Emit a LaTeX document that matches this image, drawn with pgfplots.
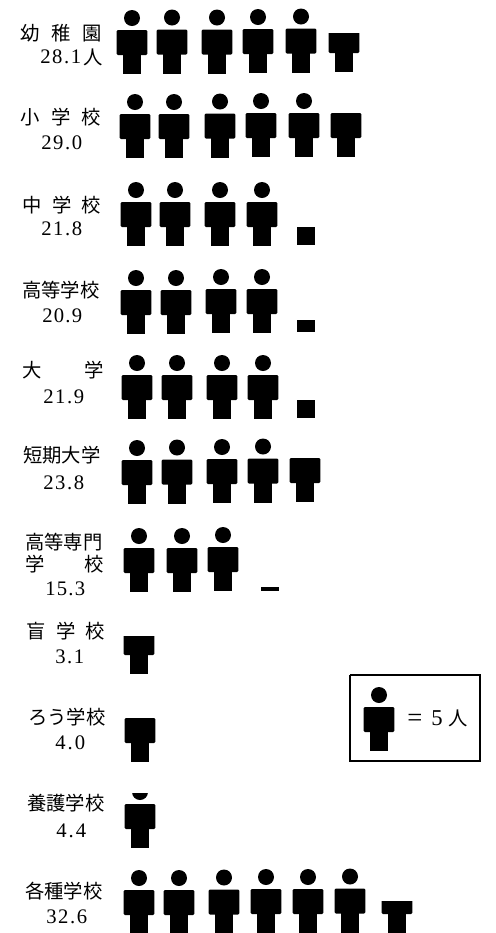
\documentclass[border=0pt]{standalone}
\usepackage{pgfplots}
\usepackage{fontspec}
\pgfplotsset{compat=1.18}
\setmainfont{Liberation Serif}
\newfontfamily\jp{Noto Sans CJK JP}

% person icon, 1px = 0.75pt, origin at the feet; mark size = visible height in px
\pgfdeclareplotmark{person}{%
  \begin{pgfscope}
    \pgfpathrectangle{\pgfpoint{-15pt}{-1pt}}{\pgfpoint{30pt}{0.75\pgfplotmarksize+1pt}}
    \pgfusepath{clip}
    \pgfpathrectangle{\pgfpoint{-6.95pt}{-0.2pt}}{\pgfpoint{13.9pt}{15pt}}
    \pgfusepath{fill}
    \begin{pgfscope}
      \pgfsetcornersarced{\pgfpoint{1pt}{1pt}}
      \pgfpathrectangle{\pgfpoint{-11.6pt}{14.25pt}}{\pgfpoint{23.2pt}{18.75pt}}
      \pgfusepath{fill}
    \end{pgfscope}
    \pgfpathcircle{\pgfpoint{0pt}{42pt}}{6pt}
    \pgfusepath{fill}
  \end{pgfscope}
}

% school name, spread over a width given in px
\newcommand{\cjklab}[4]{\node[anchor=west,inner sep=0pt] at (axis cs:#1,#2)
  {\jp\fontsize{14.5}{14.5}\selectfont\makebox[\dimexpr#3pt*3/4\relax][s]{#4}};}
\newcommand{\numlab}[4]{\node[anchor=west,inner sep=0pt] at (axis cs:#1,#2)
  {\fontsize{15.5}{15.5}\selectfont\makebox[\dimexpr#3pt*3/4\relax][s]{#4}};}

\begin{document}
\begin{tikzpicture}
\path[use as bounding box, clip] (0,0) rectangle (372pt,699.75pt);
% axis runs a little past the page so the last row's feet are cut by the edge
\begin{axis}[
    at={(0,699.75pt)}, anchor=north west,
    scale only axis,
    width=372pt, height=705pt,
    xmin=0, xmax=496, ymin=0, ymax=940,
    y dir=reverse,
    hide axis,
]
% x = centre of icon, y = feet, h = visible height (full icon 64)
\addplot[
    scatter, only marks, mark=person,
    scatter src=x,
    scatter/use mapped color={draw=black,fill=black},
    visualization depends on={\thisrow{h} \as \vish},
    scatter/@pre marker code/.append style={/tikz/mark size=\vish},
] table {
x y h
132 74 64
172 73.5 64
217 73.5 64
258 73 64
301 72.5 64
344 72 39
135 158 64
174 158 64
220 157.5 64
261 157 64
304 157 64
346 157 45
136 246 64
175 246 64
220 246 64
262 246 64
306 245 18
136 334 64
176 334 64
221 333 64
262 333 64
306 332 12
137 419 64
177 419 64
222 419 64
263 419 64
306 418 18
137 504 64
177 503.5 64
222 503 64
263 502.5 64
305 502 46
139 592 64
182 592 64
223 591 64
270 591 4
139 674 38
140 762 45
140 848 55
139 934 64
179 934 64
224 933.5 64
266 933 64
308 933 64
350 932.5 64
397 933 32
379 751 64
};
% key box
\addplot[black, line width=0.9pt] coordinates {
    (350,675) (480,675) (480,761) (350,761) (350,675)
};

\cjklab{20}{33}{82}{幼\hfill 稚\hfill 園}
\numlab{40}{57}{41}{2\hfill 8\hfill .\hfill 1}
\node[anchor=west,inner sep=0pt] at (axis cs:83,57) {\jp\fontsize{14.5}{14.5}\selectfont 人};
\cjklab{20}{117}{81}{小\hfill 学\hfill 校}
\numlab{41}{143}{41}{2\hfill 9\hfill .\hfill 0}
\cjklab{22}{205}{79}{中\hfill 学\hfill 校}
\numlab{41}{229}{41}{2\hfill 1\hfill .\hfill 8}
\cjklab{22}{290}{79}{高等学校}
\numlab{42}{316}{40}{2\hfill 0\hfill .\hfill 9}
\cjklab{22}{370}{82}{大\hfill 学}
\numlab{43}{397}{41}{2\hfill 1\hfill .\hfill 9}
\cjklab{23}{455}{81}{短期大学}
\numlab{43}{483}{41}{2\hfill 3\hfill .\hfill 8}
\cjklab{25}{542}{79}{高等専門}
\cjklab{25}{564}{79}{学\hfill 校}
\numlab{45}{589}{40}{1\hfill 5\hfill .\hfill 3}
\cjklab{26}{631}{79}{盲\hfill 学\hfill 校}
\numlab{55}{657}{29}{3\hfill .\hfill 1}
\cjklab{28}{717}{77}{ろう学校}
\numlab{55}{743}{30}{4\hfill .\hfill 0}
\cjklab{27}{803}{79}{養護学校}
\numlab{56}{831}{30}{4\hfill .\hfill 4}
\cjklab{25}{891}{82}{各種学校}
\numlab{46}{917}{41}{3\hfill 2\hfill .\hfill 6}
% key text
\node[anchor=west,inner sep=0pt] at (axis cs:407,720) {\fontsize{20}{20}\selectfont =};
\node[anchor=west,inner sep=0pt] at (axis cs:431,718) {\fontsize{17}{17}\selectfont 5};
\node[anchor=west,inner sep=0pt] at (axis cs:448,718) {\jp\fontsize{14.5}{14.5}\selectfont 人};
\end{axis}
\end{tikzpicture}
\end{document}
